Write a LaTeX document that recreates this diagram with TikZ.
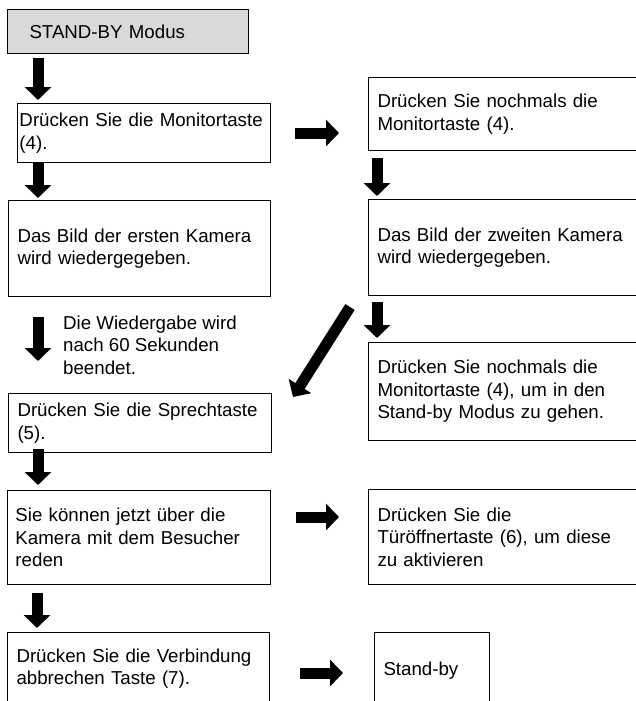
\documentclass[tikz,border=0pt]{standalone}
\usepackage{fontspec}
\setmainfont{Liberation Sans}
\usetikzlibrary{arrows.meta}

\begin{document}
\begin{tikzpicture}[x=1pt, y=-1pt,
	box/.style={draw, line width=1pt, anchor=north west, align=left, inner ysep=0pt, font={\fontsize{18.7}{22.5}\selectfont}},
	note/.style={anchor=west, align=left, inner sep=0pt, font={\fontsize{18.7}{22.5}\selectfont}},
	fat/.style={line width=11pt, -{Triangle[width=26pt, length=13pt]}}]
			\useasboundingbox (0,0) rectangle (636,701);
			\clip (0,0) rectangle (636,701);
			% left column
			\node[box, fill=gray!30, minimum width=241pt, minimum height=44pt, inner xsep=22pt, text width=197pt] (standby) at (7,9) {STAND-BY Modus};
			\node[box, minimum width=253pt, minimum height=59pt, inner xsep=2pt, text width=249pt] (monitor) at (17,103) {Drücken Sie die Monitortaste\\(4).};
			\node[box, minimum width=262pt, minimum height=96pt, inner xsep=9pt, text width=244pt] (bild1) at (8,200) {Das Bild der ersten Kamera\\wird wiedergegeben.};
			\node[note] (delay) at (63,345) {Die Wiedergabe wird\\nach 60 Sekunden\\beendet.};
			\node[box, minimum width=263pt, minimum height=59pt, inner xsep=9pt, text width=245pt] (sprech) at (8,393) {Drücken Sie die Sprechtaste\\(5).};
			\node[box, minimum width=263pt, minimum height=94pt, inner xsep=8pt, text width=247pt] (reden) at (7,490) {Sie können jetzt über die\\Kamera mit dem Besucher\\reden};
			\node[box, minimum width=262pt, minimum height=72pt, inner xsep=9pt, text width=244pt] (trennen) at (7,632) {Drücken Sie die Verbindung\\abbrechen Taste (7).};
			% right column
			\node[box, minimum width=280pt, minimum height=73pt, inner xsep=9pt, text width=262pt] (monitor2) at (368,77) {Drücken Sie nochmals die\\Monitortaste (4).};
			\node[box, minimum width=280pt, minimum height=96pt, inner xsep=9pt, text width=262pt] (bild2) at (368,199) {Das Bild der zweiten Kamera\\wird wiedergegeben.};
			\node[box, minimum width=280pt, minimum height=98pt, inner xsep=9pt, text width=262pt] (zurueck) at (368,342) {Drücken Sie nochmals die\\Monitortaste (4), um in den\\Stand-by Modus zu gehen.};
			\node[box, minimum width=280pt, minimum height=95pt, inner xsep=9pt, text width=262pt] (tuer) at (368,489) {Drücken Sie die\\Türöffnertaste (6), um diese\\zu aktivieren};
			\node[box, minimum width=115pt, minimum height=76pt, inner xsep=9pt, text width=97pt] (ende) at (374,632) {Stand-by};
			% arrow ends
			\coordinate (a1) at (38,58);
			\coordinate (a1e) at (38,100);
			\coordinate (a2) at (38,162);
			\coordinate (a2e) at (38,198);
			\coordinate (a3) at (38,317);
			\coordinate (a3e) at (38,361);
			\coordinate (a4) at (38,449);
			\coordinate (a4e) at (38,485);
			\coordinate (a5) at (37,593);
			\coordinate (a5e) at (37,628);
			\coordinate (b1) at (295,133);
			\coordinate (b1e) at (339,133);
			\coordinate (b2) at (377,158);
			\coordinate (b2e) at (377,196);
			\coordinate (b3) at (377,302);
			\coordinate (b3e) at (377,338);
			\coordinate (c1) at (350,307);
			\coordinate (c1e) at (293,397);
			\coordinate (d1) at (296,517);
			\coordinate (d1e) at (339,517);
			\coordinate (d2) at (300,673);
			\coordinate (d2e) at (343,673);
			\draw[fat] (a1) -- (a1e);
			\draw[fat] (a2) -- (a2e);
			\draw[fat] (a3) -- (a3e);
			\draw[fat] (a4) -- (a4e);
			\draw[fat] (a5) -- (a5e);
			\draw[fat] (b1) -- (b1e);
			\draw[fat] (b2) -- (b2e);
			\draw[fat] (b3) -- (b3e);
			\draw[fat] (c1) -- (c1e);
			\draw[fat] (d1) -- (d1e);
			\draw[fat] (d2) -- (d2e);
\end{tikzpicture}
\end{document}
